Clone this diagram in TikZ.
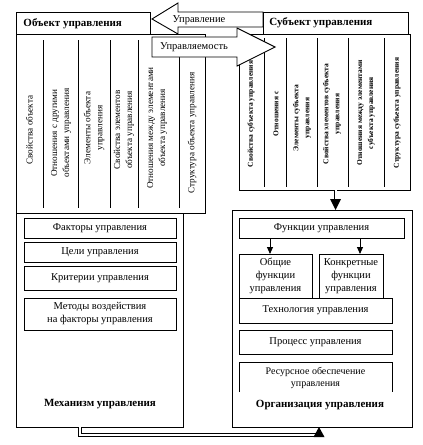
\documentclass[tikz,border=0pt]{standalone}
\usepackage{fontspec}
\setmainfont{Liberation Serif}
\usetikzlibrary{arrows.meta,calc}
\begin{document}
\begin{tikzpicture}[x=1pt,y=-1pt,line width=0.9pt,
  box/.style={draw,fill=white,inner sep=0pt,outer sep=0pt,anchor=north west},
  txt/.style={font=\fontsize{10.5}{13}\selectfont,align=center,inner sep=0pt},
  bold/.style={font=\fontsize{11}{13}\selectfont\bfseries,inner sep=0pt},
  hbold/.style={font=\fontsize{11}{13}\selectfont\bfseries,inner sep=0pt},
  lbl/.style={font=\fontsize{10.5}{12}\selectfont,inner sep=0pt},
  rot/.style={font=\fontsize{9.2}{12}\selectfont,align=center,rotate=90,inner sep=0pt},
  rotb/.style={font=\fontsize{7.5}{11}\selectfont\bfseries,align=center,rotate=90,inner sep=0pt},
  dbl/.style={double,double distance=2pt,line width=0.9pt},
  arr/.style={draw,fill=white}]
\fill[white] (0,0) rectangle (423,445);
\useasboundingbox (0,0) rectangle (423,445);

% ---- frames ----
\node[box,minimum width=189pt,minimum height=179pt] (objf) at (16,34) {};
\node[box,minimum width=171pt,minimum height=156pt] (subjf) at (239,34) {};
\node[box,minimum width=167pt,minimum height=214pt] (mech) at (16,213) {};
\node[box,minimum width=180pt,minimum height=217pt] (org) at (232,210) {};

% ---- object column dividers ----
\foreach \x in {43,78,110,138,179} \draw (\x,40) -- (\x,208);
% ---- subject column dividers ----
\foreach \x in {264,286,317,348,384} \draw (\x,38) -- (\x,187);

% ---- object column texts ----
\node[rot] (o1) at (29.5,130) {Свойства объекта};
\node[rot] (o2) at (61,133) {Отношения с другими\\объектами управления};
\node[rot] (o3) at (94,128) {Элементы объекта\\управления};
\node[rot] (o4) at (124,130) {Свойства элементов\\объекта управления};
\node[rot] (o5) at (157,128) {Отношения между элементами\\объекта управления};
\node[rot] (o6) at (192,133) {Структура объекта управления};

% ---- subject column texts ----
\node[rotb] (s1) at (251,114) {Свойства субъекта управления};
\node[rotb] (s2) at (276,114) {Отношения с};
\node[rotb] (s3) at (302,118) {Элементы субъекта\\управления};
\node[rotb] (s4) at (332,114) {Свойства элементов субъекта\\управления};
\node[rotb] (s5) at (366,113) {Отношения между элементами\\субъекта управления};
\node[rotb] (s6) at (397,113) {Структура субъекта управления};

% ---- big arrows ----
\path[arr] (152,37) -- (237,37) -- (237,28) -- (275,47) -- (237,66) -- (237,57) -- (152,57) -- cycle;
\node[lbl] (lbl2) at (194,47) {Управляемость};
\path[arr] (152,19) -- (178,3) -- (178,12) -- (263,12) -- (263,27) -- (178,27) -- (178,34) -- cycle;
\node[lbl] (lbl1) at (199,20) {Управление};

% ---- headers ----
\node[box,minimum width=134pt,minimum height=22pt] (objh) at (16,12) {};
\node[hbold,anchor=west] (objt) at (23,24) {Объект управления};
\node[box,minimum width=145pt,minimum height=22pt] (subjh) at (263,12) {};
\node[hbold,anchor=west] (subjt) at (269,23) {Субъект управления};
\draw (150,34) -- (205,34);

% ---- mechanism inner ----
\node[box,minimum width=152pt,minimum height=20pt] (fact) at (24,218) {};
\node[txt] at (fact.center) {Факторы управления};
\node[box,minimum width=152pt,minimum height=20pt] (goal) at (24,242) {};
\node[txt] at (goal.center) {Цели управления};
\node[box,minimum width=152pt,minimum height=24pt] (crit) at (24,266) {};
\node[txt] at (crit.center) {Критерии управления};
\node[box,minimum width=152pt,minimum height=32pt] (meth) at (24,298) {};
\node[txt] at (meth.center) {Методы воздействия\\на факторы управления};
\node[bold] (mechl) at (100,404) {Механизм управления};

% ---- organisation inner ----
\node[box,minimum width=165pt,minimum height=20pt] (func) at (239,218) {};
\node[txt] at (func.center) {Функции управления};
\node[box,minimum width=73pt,minimum height=44pt] (gen) at (239,254) {};
\node[txt] at (gen.center) {Общие\\функции\\управления};
\node[box,minimum width=64pt,minimum height=44pt] (conc) at (319,254) {};
\node[txt] at (conc.center) {Конкретные\\функции\\управления};
\node[box,minimum width=153pt,minimum height=25pt] (tech) at (239,298) {};
\node[txt] at (tech.center) {Технология управления};
\node[box,minimum width=153pt,minimum height=24pt] (proc) at (239,330) {};
\node[txt] at (proc.center) {Процесс управления};
\node[anchor=north west,minimum width=153pt,minimum height=30pt,inner sep=0pt,outer sep=0pt] (res) at (239,362) {};
\draw (res.south west) -- (res.north west) -- (res.north east) -- (res.south east);
\node[txt,font=\fontsize{10}{12}\selectfont] at ($(res.center)+(0,1)$) {Ресурсное обеспечение\\управления};
\node[bold] (orgl) at (320,405) {Организация управления};

\coordinate (a1) at (270,0);
\coordinate (a2) at (360,0);
\draw[-{Triangle[width=6pt,length=7pt]}] (a1 |- func.south) -- (a1 |- gen.north);
\draw[-{Triangle[width=6pt,length=7pt]}] (a2 |- func.south) -- (a2 |- conc.north);

% ---- double connectors ----
\coordinate (t) at (335.5,0);
\draw[dbl] (t |- subjf.south) -- ($(t |- org.north)+(0,-10)$);
\fill (t |- org.north) -- ++(-5.5,-11) -- ++(11,0) -- cycle;

\coordinate (b1) at (80,435);
\coordinate (b2) at (319,435);
\draw[dbl] (b1 |- mech.south) -- (b1) -- (b2) -- ($(b2 |- org.south)+(0,8)$);
\fill (b2 |- org.south) -- ++(-5.5,10) -- ++(11,0) -- cycle;
\end{tikzpicture}
\end{document}
